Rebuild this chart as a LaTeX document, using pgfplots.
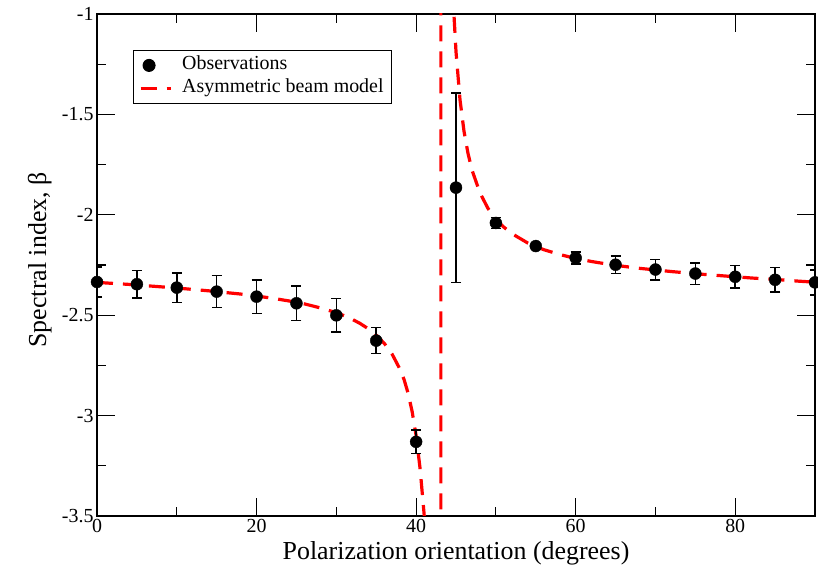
\documentclass[border=0pt]{standalone}
\usepackage{pgfplots}
\pgfplotsset{compat=1.18}
\usepackage{pgfplotstable}
\usepackage{fontspec}
\setmainfont{Liberation Serif}
\pgfplotsset{mylegline/.style={legend image code/.code={\draw[##1] (0bp,0bp) -- (30bp,0bp);}}}
\pgfplotstableread{
x y e
0 -2.335 0.075
5 -2.346 0.068
10 -2.363 0.074
15 -2.383 0.080
20 -2.408 0.083
25 -2.441 0.085
30 -2.501 0.083
35 -2.627 0.065
40 -3.131 0.058
45 -1.865 0.472
50 -2.041 0.027
55 -2.156 0.008
60 -2.215 0.030
65 -2.249 0.044
70 -2.273 0.051
75 -2.293 0.054
80 -2.309 0.057
85 -2.324 0.061
90 -2.337 0.063
}\obs
\pgfplotstableread{
x y
0 -2.337
2 -2.342
4 -2.347
6 -2.353
8 -2.359
10 -2.365
12 -2.372
14 -2.379
16 -2.387
18 -2.395
20 -2.405
22 -2.416
24 -2.429
26 -2.444
28 -2.464
30 -2.488
31 -2.503
32 -2.521
33 -2.542
34 -2.568
35 -2.600
36 -2.640
37 -2.695
38 -2.771
38.5 -2.822
39 -2.890
39.5 -2.980
40 -3.100
40.5 -3.265
41 -3.490
41.5 -3.900
42 -4.750
42.6 -8.000
43.1 -30.000
43.1 30.000
43.5 3.100
44 0.084
44.3 -0.520
44.5 -0.779
44.7 -0.973
45 -1.188
45.5 -1.427
46 -1.584
46.5 -1.694
47 -1.777
48 -1.891
49 -1.968
50 -2.022
51 -2.062
52 -2.094
54 -2.141
56 -2.174
58 -2.198
60 -2.218
62 -2.233
64 -2.246
66 -2.257
68 -2.267
70 -2.275
72 -2.283
74 -2.290
76 -2.297
78 -2.303
80 -2.309
82 -2.315
84 -2.320
86 -2.325
88 -2.331
90 -2.336
}\model
\begin{document}
\begin{tikzpicture}[x=1bp,y=1bp]
\useasboundingbox (0,0) rectangle (818,566);
\begin{axis}[
  at={(97bp,50bp)}, anchor=south west,
  scale only axis, width=718bp, height=502bp,
  xmin=0, xmax=90, ymin=-3.5, ymax=-1,
  xtick={0,20,40,60,80}, xticklabels={0,20,40,60,80},
  minor xtick={10,30,50,70,90},
  ytick={-3.5,-3,-2.5,-2,-1.5,-1},
  yticklabels={-3.5,-3,-2.5,-2,-1.5,-1},
  minor ytick={-3.25,-2.75,-2.25,-1.75,-1.25},
  tick align=inside, major tick length=18bp, minor tick length=9bp,
  axis line style={line width=1.3bp},
  every tick/.style={black, line width=1.2bp},
  ticklabel style={font=\fontsize{20}{24}\selectfont},
  xlabel={Polarization orientation (degrees)},
  ylabel={Spectral index, β},
  label style={font=\fontsize{26}{30}\selectfont},
  xlabel style={at={(axis description cs:0.5,0)}, anchor=base, yshift=-44bp},
  ylabel style={at={(axis description cs:-0.071,0.51)}, anchor=base, rotate=0},
  reverse legend,
  legend cell align=left,
  legend style={at={(rel axis cs:0.0501,0.9283)}, anchor=north west,
    draw=black, line width=1bp, font=\fontsize{20}{24}\selectfont,
    inner xsep=5.5bp, inner ysep=3.5bp, row sep=0bp, column sep=8bp,
    nodes={inner sep=2bp, text height=14bp, text depth=5bp}},
]
\addplot[red, line width=3.2bp, dash pattern=on 16bp off 10bp, line cap=butt, mylegline]
  table[x=x,y=y]{\model};
\addlegendentry{Asymmetric beam model}
\addplot[black, only marks, mark=*, mark size=6bp,
  error bars/.cd, y dir=both, y explicit,
  error bar style={line width=1.6bp, black},
  error mark options={rotate=90, mark size=5bp, line width=1.6bp, black}]
  table[x=x,y=y,y error=e]{\obs};
\addlegendentry{Observations}
\end{axis}
\end{tikzpicture}
\end{document}
